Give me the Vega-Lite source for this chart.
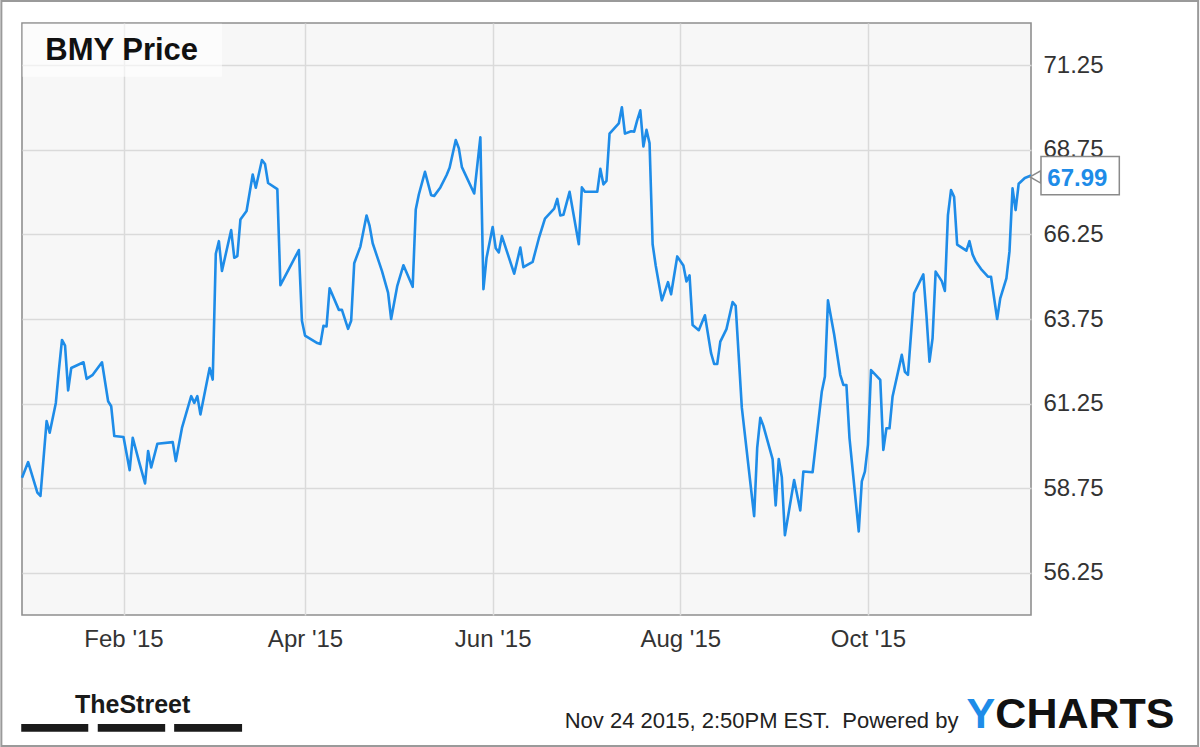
{
  "$schema": "https://vega.github.io/schema/vega-lite/v6.json",
  "width": 1009,
  "height": 592,
  "autosize": {"type": "none"},
  "padding": {"left": 22, "top": 23, "right": 169, "bottom": 132},
  "background": "#ffffff",
  "config": {
    "view": {"stroke": "#8f8f8f", "strokeWidth": 1.6, "fill": "#f7f7f7"},
    "axis": {
      "labelFont": "Liberation Sans",
      "labelFontSize": 24,
      "labelColor": "#333333",
      "grid": true,
      "gridColor": "#dadada",
      "gridWidth": 1.5,
      "domain": false,
      "ticks": false,
      "tickSize": 0
    }
  },
  "resolve": {"axis": {"x": "independent", "y": "independent"}},
  "datasets": {
    "prices": [
      {"date": "2014-12-30", "price": 59.06},
      {"date": "2015-01-01", "price": 59.52},
      {"date": "2015-01-04", "price": 58.62},
      {"date": "2015-01-05", "price": 58.52},
      {"date": "2015-01-07", "price": 60.73},
      {"date": "2015-01-08", "price": 60.39},
      {"date": "2015-01-10", "price": 61.27},
      {"date": "2015-01-11", "price": 62.25},
      {"date": "2015-01-12", "price": 63.13},
      {"date": "2015-01-13", "price": 62.96},
      {"date": "2015-01-14", "price": 61.64},
      {"date": "2015-01-15", "price": 62.30},
      {"date": "2015-01-19", "price": 62.47},
      {"date": "2015-01-20", "price": 61.98},
      {"date": "2015-01-22", "price": 62.10},
      {"date": "2015-01-25", "price": 62.47},
      {"date": "2015-01-27", "price": 61.32},
      {"date": "2015-01-28", "price": 61.17},
      {"date": "2015-01-29", "price": 60.29},
      {"date": "2015-02-01", "price": 60.26},
      {"date": "2015-02-03", "price": 59.28},
      {"date": "2015-02-04", "price": 60.24},
      {"date": "2015-02-06", "price": 59.55},
      {"date": "2015-02-08", "price": 58.89},
      {"date": "2015-02-09", "price": 59.85},
      {"date": "2015-02-10", "price": 59.36},
      {"date": "2015-02-12", "price": 60.06},
      {"date": "2015-02-17", "price": 60.11},
      {"date": "2015-02-18", "price": 59.55},
      {"date": "2015-02-20", "price": 60.53},
      {"date": "2015-02-23", "price": 61.47},
      {"date": "2015-02-24", "price": 61.27},
      {"date": "2015-02-25", "price": 61.47},
      {"date": "2015-02-26", "price": 60.93},
      {"date": "2015-03-01", "price": 62.30},
      {"date": "2015-03-02", "price": 61.96},
      {"date": "2015-03-03", "price": 65.68},
      {"date": "2015-03-04", "price": 66.05},
      {"date": "2015-03-05", "price": 65.17},
      {"date": "2015-03-08", "price": 66.38},
      {"date": "2015-03-09", "price": 65.56},
      {"date": "2015-03-10", "price": 65.61},
      {"date": "2015-03-11", "price": 66.69},
      {"date": "2015-03-13", "price": 66.94},
      {"date": "2015-03-15", "price": 68.02},
      {"date": "2015-03-16", "price": 67.63},
      {"date": "2015-03-18", "price": 68.45},
      {"date": "2015-03-19", "price": 68.33},
      {"date": "2015-03-20", "price": 67.77},
      {"date": "2015-03-23", "price": 67.59},
      {"date": "2015-03-24", "price": 64.75},
      {"date": "2015-03-27", "price": 65.27},
      {"date": "2015-03-30", "price": 65.79},
      {"date": "2015-03-31", "price": 63.70},
      {"date": "2015-04-01", "price": 63.26},
      {"date": "2015-04-05", "price": 63.04},
      {"date": "2015-04-06", "price": 63.01},
      {"date": "2015-04-07", "price": 63.55},
      {"date": "2015-04-08", "price": 63.53},
      {"date": "2015-04-09", "price": 64.66},
      {"date": "2015-04-12", "price": 64.02},
      {"date": "2015-04-13", "price": 64.02},
      {"date": "2015-04-15", "price": 63.46},
      {"date": "2015-04-16", "price": 63.70},
      {"date": "2015-04-17", "price": 65.40},
      {"date": "2015-04-19", "price": 65.89},
      {"date": "2015-04-21", "price": 66.81},
      {"date": "2015-04-22", "price": 66.50},
      {"date": "2015-04-23", "price": 65.99},
      {"date": "2015-04-26", "price": 65.17},
      {"date": "2015-04-28", "price": 64.53},
      {"date": "2015-04-29", "price": 63.75},
      {"date": "2015-05-01", "price": 64.73},
      {"date": "2015-05-03", "price": 65.34},
      {"date": "2015-05-06", "price": 64.70},
      {"date": "2015-05-07", "price": 66.99},
      {"date": "2015-05-08", "price": 67.43},
      {"date": "2015-05-10", "price": 68.10},
      {"date": "2015-05-12", "price": 67.41},
      {"date": "2015-05-13", "price": 67.39},
      {"date": "2015-05-15", "price": 67.64},
      {"date": "2015-05-17", "price": 68.00},
      {"date": "2015-05-18", "price": 68.22},
      {"date": "2015-05-20", "price": 69.04},
      {"date": "2015-05-21", "price": 68.80},
      {"date": "2015-05-22", "price": 68.24},
      {"date": "2015-05-26", "price": 67.46},
      {"date": "2015-05-28", "price": 69.12},
      {"date": "2015-05-29", "price": 64.63},
      {"date": "2015-05-30", "price": 65.55},
      {"date": "2015-06-01", "price": 66.47},
      {"date": "2015-06-02", "price": 65.84},
      {"date": "2015-06-03", "price": 65.72},
      {"date": "2015-06-04", "price": 66.20},
      {"date": "2015-06-08", "price": 65.09},
      {"date": "2015-06-10", "price": 65.86},
      {"date": "2015-06-11", "price": 65.28},
      {"date": "2015-06-14", "price": 65.44},
      {"date": "2015-06-16", "price": 66.13},
      {"date": "2015-06-18", "price": 66.72},
      {"date": "2015-06-21", "price": 67.01},
      {"date": "2015-06-22", "price": 67.30},
      {"date": "2015-06-23", "price": 66.81},
      {"date": "2015-06-24", "price": 66.83},
      {"date": "2015-06-26", "price": 67.51},
      {"date": "2015-06-29", "price": 65.96},
      {"date": "2015-06-30", "price": 67.64},
      {"date": "2015-07-01", "price": 67.51},
      {"date": "2015-07-05", "price": 67.51},
      {"date": "2015-07-06", "price": 68.19},
      {"date": "2015-07-07", "price": 67.73},
      {"date": "2015-07-08", "price": 67.83},
      {"date": "2015-07-09", "price": 69.23},
      {"date": "2015-07-12", "price": 69.53},
      {"date": "2015-07-13", "price": 70.01},
      {"date": "2015-07-14", "price": 69.23},
      {"date": "2015-07-16", "price": 69.30},
      {"date": "2015-07-17", "price": 69.29},
      {"date": "2015-07-18", "price": 69.63},
      {"date": "2015-07-19", "price": 69.92},
      {"date": "2015-07-20", "price": 68.85},
      {"date": "2015-07-21", "price": 69.34},
      {"date": "2015-07-22", "price": 68.95},
      {"date": "2015-07-23", "price": 65.96},
      {"date": "2015-07-24", "price": 65.33},
      {"date": "2015-07-26", "price": 64.30},
      {"date": "2015-07-28", "price": 64.84},
      {"date": "2015-07-29", "price": 64.48},
      {"date": "2015-07-31", "price": 65.60},
      {"date": "2015-08-02", "price": 65.33},
      {"date": "2015-08-03", "price": 64.86},
      {"date": "2015-08-04", "price": 65.04},
      {"date": "2015-08-05", "price": 63.57},
      {"date": "2015-08-07", "price": 63.42},
      {"date": "2015-08-09", "price": 63.86},
      {"date": "2015-08-11", "price": 62.74},
      {"date": "2015-08-12", "price": 62.42},
      {"date": "2015-08-13", "price": 62.42},
      {"date": "2015-08-14", "price": 63.08},
      {"date": "2015-08-16", "price": 63.45},
      {"date": "2015-08-18", "price": 64.25},
      {"date": "2015-08-19", "price": 64.14},
      {"date": "2015-08-21", "price": 61.13},
      {"date": "2015-08-25", "price": 57.92},
      {"date": "2015-08-26", "price": 59.95},
      {"date": "2015-08-27", "price": 60.83},
      {"date": "2015-08-28", "price": 60.59},
      {"date": "2015-08-31", "price": 59.61},
      {"date": "2015-09-01", "price": 58.24},
      {"date": "2015-09-02", "price": 59.61},
      {"date": "2015-09-03", "price": 59.07},
      {"date": "2015-09-04", "price": 57.36},
      {"date": "2015-09-07", "price": 58.99},
      {"date": "2015-09-09", "price": 58.09},
      {"date": "2015-09-10", "price": 59.24},
      {"date": "2015-09-13", "price": 59.22},
      {"date": "2015-09-16", "price": 61.61},
      {"date": "2015-09-17", "price": 62.05},
      {"date": "2015-09-18", "price": 64.30},
      {"date": "2015-09-20", "price": 63.30},
      {"date": "2015-09-22", "price": 62.10},
      {"date": "2015-09-23", "price": 61.80},
      {"date": "2015-09-24", "price": 61.80},
      {"date": "2015-09-25", "price": 60.23},
      {"date": "2015-09-28", "price": 57.47},
      {"date": "2015-09-29", "price": 58.95},
      {"date": "2015-09-30", "price": 59.24},
      {"date": "2015-10-01", "price": 60.03},
      {"date": "2015-10-02", "price": 62.24},
      {"date": "2015-10-05", "price": 61.95},
      {"date": "2015-10-06", "price": 59.88},
      {"date": "2015-10-07", "price": 60.52},
      {"date": "2015-10-08", "price": 60.52},
      {"date": "2015-10-09", "price": 61.46},
      {"date": "2015-10-12", "price": 62.69},
      {"date": "2015-10-13", "price": 62.19},
      {"date": "2015-10-14", "price": 62.10},
      {"date": "2015-10-16", "price": 64.51},
      {"date": "2015-10-19", "price": 65.07},
      {"date": "2015-10-20", "price": 63.87},
      {"date": "2015-10-21", "price": 62.49},
      {"date": "2015-10-22", "price": 63.18},
      {"date": "2015-10-23", "price": 65.15},
      {"date": "2015-10-25", "price": 64.87},
      {"date": "2015-10-26", "price": 64.58},
      {"date": "2015-10-27", "price": 66.82},
      {"date": "2015-10-28", "price": 67.56},
      {"date": "2015-10-29", "price": 67.36},
      {"date": "2015-10-30", "price": 65.95},
      {"date": "2015-11-02", "price": 65.77},
      {"date": "2015-11-03", "price": 66.05},
      {"date": "2015-11-04", "price": 65.66},
      {"date": "2015-11-05", "price": 65.46},
      {"date": "2015-11-07", "price": 65.20},
      {"date": "2015-11-09", "price": 65.00},
      {"date": "2015-11-10", "price": 65.00},
      {"date": "2015-11-12", "price": 63.75},
      {"date": "2015-11-13", "price": 64.36},
      {"date": "2015-11-15", "price": 64.95},
      {"date": "2015-11-16", "price": 65.74},
      {"date": "2015-11-17", "price": 67.61},
      {"date": "2015-11-18", "price": 66.97},
      {"date": "2015-11-19", "price": 67.75},
      {"date": "2015-11-21", "price": 67.92},
      {"date": "2015-11-23", "price": 67.99}
    ]
  },
  "layer": [
    {
      "data": {"name": "prices"},
      "mark": {"type": "line", "color": "#1e8ce8", "strokeWidth": 2.6, "strokeJoin": "round"},
      "encoding": {
        "x": {
          "field": "date", "type": "temporal", "title": null,
          "scale": {"type": "utc", "domain": [{"year": 2014, "month": 12, "date": 30, "utc": true}, {"year": 2015, "month": 11, "date": 23, "utc": true}]},
          "axis": {
            "orient": "bottom",
            "values": [
              {"year": 2015, "month": 2, "date": 1, "utc": true},
              {"year": 2015, "month": 4, "date": 1, "utc": true},
              {"year": 2015, "month": 6, "date": 1, "utc": true},
              {"year": 2015, "month": 8, "date": 1, "utc": true},
              {"year": 2015, "month": 10, "date": 1, "utc": true}
            ],
            "labelExpr": "utcFormat(datum.value, \"%b '%y\")",
            "labelPadding": 12,
            "labelAlign": "center",
            "grid": true,
            "gridColor": "#dadada",
            "gridWidth": 1.5
          }
        },
        "y": {
          "field": "price", "type": "quantitative", "title": null,
          "scale": {"domain": [55, 72.5], "nice": false, "zero": false},
          "axis": {
            "orient": "right",
            "values": [56.25, 58.75, 61.25, 63.75, 66.25, 68.75, 71.25],
            "format": ".2f",
            "labelPadding": 12,
            "grid": true,
            "gridColor": "#dadada",
            "gridWidth": 1.5
          }
        }
      }
    },
    {
      "data": {"values": [{}]},
      "mark": {"type": "rect", "fill": null, "fillOpacity": 0, "stroke": "#9a9a9a", "strokeWidth": 2},
      "encoding": {
        "x": {"datum": {"year": 2014, "month": 12, "date": 23, "hours": 7, "utc": true}, "type": "temporal", "axis": null},
        "x2": {"datum": {"year": 2016, "month": 1, "date": 16, "hours": 8, "utc": true}},
        "y": {"datum": 73.15, "type": "quantitative", "axis": null},
        "y2": {"datum": 51.13}
      }
    },
    {
      "data": {"values": [{}]},
      "mark": {"type": "rect", "fill": "#ffffff", "fillOpacity": 0.6},
      "encoding": {
        "x": {"datum": {"year": 2014, "month": 12, "date": 30, "hours": 4, "utc": true}, "type": "temporal", "axis": null},
        "x2": {"datum": {"year": 2015, "month": 3, "date": 5, "utc": true}},
        "y": {"datum": 72.48, "type": "quantitative", "axis": null},
        "y2": {"datum": 70.91}
      }
    },
    {
      "data": {"values": [{}]},
      "mark": {"type": "text", "text": "BMY Price", "font": "Liberation Sans", "fontWeight": "bold", "fontSize": 31, "color": "#111111", "align": "left", "baseline": "alphabetic"},
      "encoding": {
        "x": {"datum": {"year": 2015, "month": 1, "date": 6, "hours": 14, "utc": true}, "type": "temporal", "axis": null},
        "y": {"datum": 71.41, "type": "quantitative", "axis": null}
      }
    },
    {
      "data": {"values": [{}]},
      "mark": {"type": "point", "shape": "triangle-left", "size": 150, "filled": true, "fill": "#ffffff", "stroke": "#8a8a8a", "strokeWidth": 1.5, "opacity": 1},
      "encoding": {
        "x": {"datum": {"year": 2015, "month": 11, "date": 24, "hours": 10, "utc": true}, "type": "temporal", "axis": null},
        "y": {"datum": 67.95, "type": "quantitative", "axis": null}
      }
    },
    {
      "data": {"values": [{}]},
      "mark": {"type": "rect", "fill": "#ffffff", "stroke": "#8a8a8a", "strokeWidth": 1.5},
      "encoding": {
        "x": {"datum": {"year": 2015, "month": 11, "date": 26, "hours": 6, "utc": true}, "type": "temporal", "axis": null},
        "x2": {"datum": {"year": 2015, "month": 12, "date": 21, "hours": 17, "utc": true}},
        "y": {"datum": 68.55, "type": "quantitative", "axis": null},
        "y2": {"datum": 67.42}
      }
    },
    {
      "data": {"values": [{}]},
      "mark": {"type": "text", "text": "67.99", "font": "Liberation Sans", "fontWeight": "bold", "fontSize": 24, "color": "#1e8ce8", "align": "left", "baseline": "alphabetic"},
      "encoding": {
        "x": {"datum": {"year": 2015, "month": 11, "date": 28, "hours": 7, "utc": true}, "type": "temporal", "axis": null},
        "y": {"datum": 67.68, "type": "quantitative", "axis": null}
      }
    },
    {
      "data": {"values": [{}]},
      "mark": {"type": "text", "text": "TheStreet", "font": "Liberation Sans", "fontWeight": "bold", "fontSize": 25, "color": "#1a1a1a", "align": "center", "baseline": "alphabetic"},
      "encoding": {
        "x": {"datum": {"year": 2015, "month": 2, "date": 3, "hours": 23, "utc": true}, "type": "temporal", "axis": null},
        "y": {"datum": 52.10, "type": "quantitative", "axis": null}
      }
    },
    {
      "data": {"values": [{}]},
      "mark": {"type": "rect", "fill": "#1a1a1a"},
      "encoding": {
        "x": {"datum": {"year": 2014, "month": 12, "date": 29, "hours": 18, "utc": true}, "type": "temporal", "axis": null},
        "x2": {"datum": {"year": 2015, "month": 1, "date": 20, "hours": 13, "utc": true}},
        "y": {"datum": 51.78, "type": "quantitative", "axis": null},
        "y2": {"datum": 51.55}
      }
    },
    {
      "data": {"values": [{}]},
      "mark": {"type": "rect", "fill": "#1a1a1a"},
      "encoding": {
        "x": {"datum": {"year": 2015, "month": 1, "date": 23, "hours": 15, "utc": true}, "type": "temporal", "axis": null},
        "x2": {"datum": {"year": 2015, "month": 2, "date": 14, "hours": 13, "utc": true}},
        "y": {"datum": 51.78, "type": "quantitative", "axis": null},
        "y2": {"datum": 51.55}
      }
    },
    {
      "data": {"values": [{}]},
      "mark": {"type": "rect", "fill": "#1a1a1a"},
      "encoding": {
        "x": {"datum": {"year": 2015, "month": 2, "date": 17, "hours": 11, "utc": true}, "type": "temporal", "axis": null},
        "x2": {"datum": {"year": 2015, "month": 3, "date": 11, "hours": 13, "utc": true}},
        "y": {"datum": 51.78, "type": "quantitative", "axis": null},
        "y2": {"datum": 51.55}
      }
    },
    {
      "data": {"values": [{}]},
      "mark": {"type": "text", "text": "Nov 24 2015, 2:50PM EST.\u00a0 Powered by", "font": "Liberation Sans", "fontSize": 22, "color": "#222222", "align": "right", "baseline": "alphabetic"},
      "encoding": {
        "x": {"datum": {"year": 2015, "month": 10, "date": 30, "hours": 10, "utc": true}, "type": "temporal", "axis": null},
        "y": {"datum": 51.66, "type": "quantitative", "axis": null}
      }
    },
    {
      "data": {"values": [{}]},
      "mark": {"type": "text", "text": "Y", "font": "Liberation Sans", "fontWeight": "bold", "fontSize": 43, "color": "#1e8ce8", "align": "left", "baseline": "alphabetic"},
      "encoding": {
        "x": {"datum": {"year": 2015, "month": 11, "date": 2, "hours": 1, "utc": true}, "type": "temporal", "axis": null},
        "y": {"datum": 51.66, "type": "quantitative", "axis": null}
      }
    },
    {
      "data": {"values": [{}]},
      "mark": {"type": "text", "text": "CHARTS", "font": "Liberation Sans", "fontWeight": "bold", "fontSize": 43, "color": "#111111", "align": "left", "baseline": "alphabetic"},
      "encoding": {
        "x": {"datum": {"year": 2015, "month": 11, "date": 11, "hours": 10, "utc": true}, "type": "temporal", "axis": null},
        "y": {"datum": 51.66, "type": "quantitative", "axis": null}
      }
    }
  ]
}
